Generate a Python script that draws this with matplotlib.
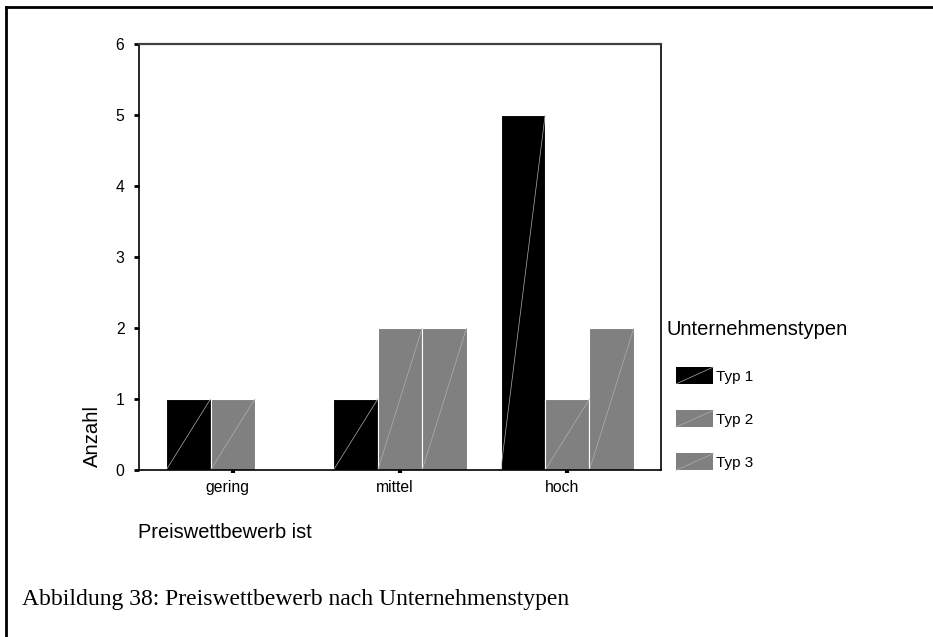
import matplotlib.pyplot as plt
from matplotlib.lines import Line2D
from matplotlib.patches import Patch
from matplotlib.legend_handler import HandlerPatch
from matplotlib.transforms import ScaledTranslation
import numpy as np

plt.rcParams['font.family'] = ['Liberation Sans', 'DejaVu Sans']

# Counts per category and company type
categories = ['gering', 'mittel', 'hoch']
series_names = ['Typ 1', 'Typ 2', 'Typ 3']
typ1 = [1, 1, 5]
typ2 = [1, 2, 1]
typ3 = [0, 2, 2]
colors = ['#000000', '#808080', '#808080']


class HandlerDiagonal(HandlerPatch):
    # legend patch with a thin diagonal stroke, like the bars
    def create_artists(self, legend, orig_handle, xdescent, ydescent,
                       width, height, fontsize, trans):
        rect = plt.Rectangle((-xdescent, -ydescent), width, height,
                             facecolor=orig_handle.get_facecolor(),
                             edgecolor='none', transform=trans)
        diag = Line2D([-xdescent, -xdescent + width],
                      [-ydescent, -ydescent + height],
                      color='#b0b0b0', lw=0.5, transform=trans)
        return [rect, diag]


fig = plt.figure(figsize=(9.33, 6.37), dpi=100)
ax = fig.add_axes([139 / 933, 167 / 637, 522 / 933, 426 / 637])

x = np.arange(len(categories))
width = 0.265
for i, (vals, c) in enumerate(zip([typ1, typ2, typ3], colors)):
    bars = ax.bar(x + (i - 1) * width, vals, width, color=c,
                  edgecolor='white', linewidth=0.8)
    for b in bars:
        if b.get_height() > 0:
            x0 = b.get_x()
            ax.plot([x0, x0 + b.get_width()], [0, b.get_height()],
                    color='#b0b0b0', lw=0.5)

ax.set_xlim(-0.56, 2.56)
ax.set_ylim(0, 6)
ax.set_yticks(range(7))
ax.set_xticks(x)
ax.set_xticklabels(categories)
ax.tick_params(axis='y', direction='out', length=3.5, width=2, pad=7,
               labelsize=11.3)
ax.tick_params(axis='x', direction='out', length=2.5, width=3, pad=5,
               labelsize=11.3)
# category names sit slightly left of their ticks
shift = ScaledTranslation(-5 / 100, 0, fig.dpi_scale_trans)
for lab in ax.get_xticklabels():
    lab.set_transform(lab.get_transform() + shift)

for side in ['left', 'bottom', 'right']:
    ax.spines[side].set_color('black')
    ax.spines[side].set_linewidth(1.2)
ax.spines['top'].set_color('#404040')
ax.spines['top'].set_linewidth(1.6)

# legend title sits a little left of the swatches, so it is its own text
fig.text(667 / 933, 1 - 330 / 637, 'Unternehmenstypen', fontsize=14.5,
         ha='left', va='center')
handles = [Patch(facecolor=c, label=n) for c, n in zip(colors, series_names)]
leg = fig.legend(handles=handles, loc='upper left',
                 bbox_to_anchor=(676 / 933, 1 - 367 / 637),
                 bbox_transform=fig.transFigure,
                 frameon=False, fontsize=11,
                 handlelength=2.45, handleheight=1.33, handletextpad=0.15,
                 labelspacing=1.72, borderaxespad=0, borderpad=0,
                 handler_map={Patch: HandlerDiagonal()})

fig.text(92 / 933, 1 - 436 / 637, 'Anzahl', rotation=90, fontsize=14.6,
         ha='center', va='center')
fig.text(138 / 933, 1 - 533 / 637, 'Preiswettbewerb ist', fontsize=14.4,
         ha='left', va='center')
fig.text(22 / 933, 1 - 600 / 637,
         'Abbildung 38: Preiswettbewerb nach Unternehmenstypen',
         family='Liberation Serif', fontsize=17, ha='left', va='center')

# outer frame: left and top edges only
fig.add_artist(Line2D([6 / 933, 6 / 933], [0, 1 - 7 / 637],
                      color='black', lw=2, transform=fig.transFigure))
fig.add_artist(Line2D([6 / 933, 1], [1 - 7 / 637, 1 - 7 / 637],
                      color='black', lw=2, transform=fig.transFigure))

fig.savefig('out.png', dpi=100)
